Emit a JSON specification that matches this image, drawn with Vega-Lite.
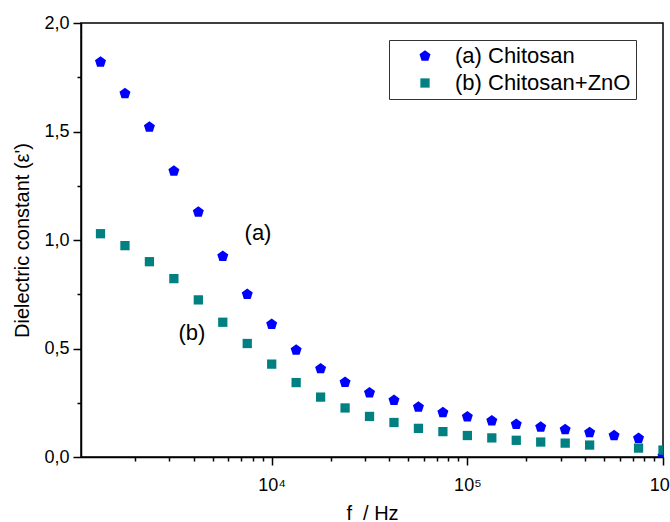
{
  "$schema": "https://vega.github.io/schema/vega-lite/v6.json",
  "width": 582,
  "height": 434,
  "autosize": {"type": "none"},
  "padding": {"left": 81, "top": 23, "right": 7, "bottom": 65},
  "config": {
    "font": "Liberation Sans",
    "view": {"stroke": "black", "strokeWidth": 1.5},
    "axis": {"grid": false, "domainColor": "black", "domainWidth": 1.5, "tickColor": "black", "tickWidth": 1.5, "labelColor": "black", "titleColor": "black", "labelFont": "Liberation Sans", "titleFont": "Liberation Sans", "titleFontWeight": "normal"}
  },
  "layer": [
    {
      "data": {
        "values": [
          {"f": 1000, "eps": 1.94, "sample": "(a) Chitosan"},
          {"f": 1333.5, "eps": 1.82, "sample": "(a) Chitosan"},
          {"f": 1778.3, "eps": 1.675, "sample": "(a) Chitosan"},
          {"f": 2371.4, "eps": 1.521, "sample": "(a) Chitosan"},
          {"f": 3162.3, "eps": 1.318, "sample": "(a) Chitosan"},
          {"f": 4217, "eps": 1.129, "sample": "(a) Chitosan"},
          {"f": 5623.4, "eps": 0.925, "sample": "(a) Chitosan"},
          {"f": 7498.9, "eps": 0.75, "sample": "(a) Chitosan"},
          {"f": 10000, "eps": 0.612, "sample": "(a) Chitosan"},
          {"f": 13335, "eps": 0.493, "sample": "(a) Chitosan"},
          {"f": 17783, "eps": 0.407, "sample": "(a) Chitosan"},
          {"f": 23714, "eps": 0.344, "sample": "(a) Chitosan"},
          {"f": 31623, "eps": 0.296, "sample": "(a) Chitosan"},
          {"f": 42170, "eps": 0.261, "sample": "(a) Chitosan"},
          {"f": 56234, "eps": 0.23, "sample": "(a) Chitosan"},
          {"f": 74989, "eps": 0.205, "sample": "(a) Chitosan"},
          {"f": 100000, "eps": 0.185, "sample": "(a) Chitosan"},
          {"f": 133352, "eps": 0.167, "sample": "(a) Chitosan"},
          {"f": 177828, "eps": 0.151, "sample": "(a) Chitosan"},
          {"f": 237137, "eps": 0.138, "sample": "(a) Chitosan"},
          {"f": 316228, "eps": 0.126, "sample": "(a) Chitosan"},
          {"f": 421697, "eps": 0.113, "sample": "(a) Chitosan"},
          {"f": 562341, "eps": 0.099, "sample": "(a) Chitosan"},
          {"f": 749894, "eps": 0.086, "sample": "(a) Chitosan"},
          {"f": 1000000, "eps": 0.004, "sample": "(a) Chitosan"},
          {"f": 1333.5, "eps": 1.029, "sample": "(b) Chitosan+ZnO"},
          {"f": 1778.3, "eps": 0.974, "sample": "(b) Chitosan+ZnO"},
          {"f": 2371.4, "eps": 0.9, "sample": "(b) Chitosan+ZnO"},
          {"f": 3162.3, "eps": 0.822, "sample": "(b) Chitosan+ZnO"},
          {"f": 4217, "eps": 0.724, "sample": "(b) Chitosan+ZnO"},
          {"f": 5623.4, "eps": 0.621, "sample": "(b) Chitosan+ZnO"},
          {"f": 7498.9, "eps": 0.523, "sample": "(b) Chitosan+ZnO"},
          {"f": 10000, "eps": 0.428, "sample": "(b) Chitosan+ZnO"},
          {"f": 13335, "eps": 0.343, "sample": "(b) Chitosan+ZnO"},
          {"f": 17783, "eps": 0.276, "sample": "(b) Chitosan+ZnO"},
          {"f": 23714, "eps": 0.226, "sample": "(b) Chitosan+ZnO"},
          {"f": 31623, "eps": 0.187, "sample": "(b) Chitosan+ZnO"},
          {"f": 42170, "eps": 0.159, "sample": "(b) Chitosan+ZnO"},
          {"f": 56234, "eps": 0.132, "sample": "(b) Chitosan+ZnO"},
          {"f": 74989, "eps": 0.117, "sample": "(b) Chitosan+ZnO"},
          {"f": 100000, "eps": 0.099, "sample": "(b) Chitosan+ZnO"},
          {"f": 133352, "eps": 0.088, "sample": "(b) Chitosan+ZnO"},
          {"f": 177828, "eps": 0.077, "sample": "(b) Chitosan+ZnO"},
          {"f": 237137, "eps": 0.069, "sample": "(b) Chitosan+ZnO"},
          {"f": 316228, "eps": 0.064, "sample": "(b) Chitosan+ZnO"},
          {"f": 421697, "eps": 0.055, "sample": "(b) Chitosan+ZnO"},
          {"f": 749894, "eps": 0.041, "sample": "(b) Chitosan+ZnO"},
          {"f": 1000000, "eps": 0.032, "sample": "(b) Chitosan+ZnO"}
        ]
      },
      "mark": {"type": "point", "filled": true, "opacity": 1, "clip": true},
      "encoding": {
        "x": {
          "field": "f", "type": "quantitative",
          "scale": {"type": "log", "domain": [1060, 1000000], "nice": false},
          "axis": {
            "title": "f\u00a0\u00a0/ Hz", "titleFontSize": 20, "titlePadding": 9,
            "values": [2000, 3000, 4000, 5000, 6000, 7000, 8000, 9000, 10000, 20000, 30000, 40000, 50000, 60000, 70000, 80000, 90000, 100000, 200000, 300000, 400000, 500000, 600000, 700000, 800000, 900000, 1000000],
            "labelExpr": "datum.value == 10000 ? '10⁴' : datum.value == 100000 ? '10⁵' : datum.value == 1000000 ? '10⁶' : ''",
            "labelFontSize": 18, "labelPadding": 11, "labelOverlap": false, "labelBound": false, "labelFlush": false,
            "tickSize": {"condition": {"test": "datum.value == 10000 || datum.value == 100000 || datum.value == 1000000", "value": 8}, "value": 4}
          }
        },
        "y": {
          "field": "eps", "type": "quantitative",
          "scale": {"domain": [0, 2], "nice": false},
          "axis": {
            "title": "Dielectric constant (ε')", "titleFontSize": 20, "titlePadding": 11,
            "values": [0, 0.25, 0.5, 0.75, 1, 1.25, 1.5, 1.75, 2],
            "labelExpr": "datum.value * 2 == floor(datum.value * 2) ? replace(format(datum.value, '.1f'), '.', ',') : ''",
            "labelFontSize": 18, "labelPadding": 4, "labelOverlap": false,
            "tickSize": {"condition": {"test": "datum.value * 2 == floor(datum.value * 2)", "value": 8}, "value": 4}
          }
        },
        "color": {
          "field": "sample", "type": "nominal",
          "scale": {"domain": ["(a) Chitosan", "(b) Chitosan+ZnO"], "range": ["#0000ff", "#008080"]},
          "legend": {
            "title": null, "orient": "none", "legendX": 308, "legendY": 17,
            "strokeColor": "#333333", "fillColor": "white", "padding": 5,
            "labelFontSize": 22, "labelLimit": 400, "labelColor": "black", "symbolOffset": 20, "labelOffset": 19, "rowPadding": 5,
            "symbolSize": 134, "symbolStrokeWidth": 0, "symbolOpacity": 1
          }
        },
        "shape": {
          "field": "sample", "type": "nominal",
          "scale": {"domain": ["(a) Chitosan", "(b) Chitosan+ZnO"], "range": ["M0,-1L0.951,-0.309L0.588,0.809L-0.588,0.809L-0.951,-0.309Z", "square"]},
          "legend": null
        },
        "size": {
          "field": "sample", "type": "nominal",
          "scale": {"domain": ["(a) Chitosan", "(b) Chitosan+ZnO"], "range": [134, 86]},
          "legend": null
        }
      }
    },
    {
      "data": {
        "values": [
          {"f": 8511, "eps": 1.032, "label": "(a)"},
          {"f": 3913, "eps": 0.571, "label": "(b)"}
        ]
      },
      "mark": {"type": "text", "fontSize": 22, "font": "Liberation Sans", "color": "black", "align": "center", "baseline": "middle"},
      "encoding": {
        "x": {"field": "f", "type": "quantitative"},
        "y": {"field": "eps", "type": "quantitative"},
        "text": {"field": "label"}
      }
    }
  ]
}
